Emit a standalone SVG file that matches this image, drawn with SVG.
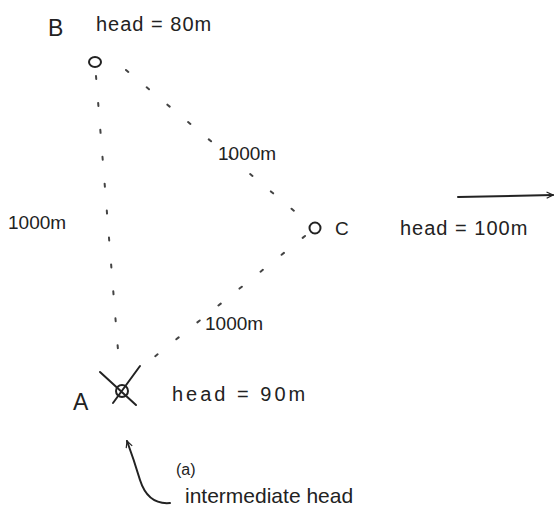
<svg xmlns="http://www.w3.org/2000/svg" width="555" height="515" viewBox="0 0 555 515">
<style>
text{font-family:"Liberation Sans",Arial,sans-serif;fill:#222;font-size:19px}
.hd{font-size:20px;letter-spacing:1px}
.big{font-size:23px}
.dot{stroke:#444;stroke-width:2;fill:none;stroke-linecap:round;stroke-dasharray:3 24}
.ln{stroke:#222;stroke-width:2;fill:none;stroke-linecap:round}
.node{stroke:#222;stroke-width:2;fill:none}
</style>
<defs>
<marker id="ah" viewBox="0 0 10 10" refX="9" refY="5" markerWidth="8" markerHeight="8" orient="auto-start-reverse" markerUnits="userSpaceOnUse">
<path d="M1,1 L9,5 L1,9" fill="none" stroke="#222" stroke-width="1.5"/>
</marker>
</defs>
<rect width="555" height="515" fill="#fff"/>
<g id="connectors">
<path class="dot" d="M96,76 L118,350"/>
<path class="dot" d="M126,70 L305,220"/>
<path class="dot" d="M305,236 L148,362"/>
<path class="ln" d="M458,197 L553,195" marker-end="url(#ah)"/>
<path class="ln" d="M170,503 Q148,505 140,480 Q134,460 127,441" marker-end="url(#ah)"/>
</g>
<g id="nodeB">
<ellipse class="node" cx="95" cy="62" rx="6" ry="5"/>
<text class="big" x="48" y="36">B</text>
<text class="hd" x="96" y="31">head = 80m</text>
</g>
<g id="nodeC">
<circle class="node" cx="315" cy="228" r="5.5"/>
<text x="335" y="235">C</text>
<text class="hd" x="400" y="235">head = 100m</text>
</g>
<g id="nodeA">
<circle class="node" cx="122" cy="391" r="6"/>
<path class="ln" d="M100,372 L136,405 M140,366 L113,403"/>
<text class="big" x="73" y="410">A</text>
<text class="hd" x="172" y="401" style="letter-spacing:3px">head = 90m</text>
</g>
<g id="labels">
<text x="218" y="160">1000m</text>
<text x="8" y="229">1000m</text>
<text x="205" y="330">1000m</text>
<text x="176" y="475" style="font-size:16px">(a)</text>
<text x="185" y="503" style="font-size:21px">intermediate head</text>
</g>
</svg>
